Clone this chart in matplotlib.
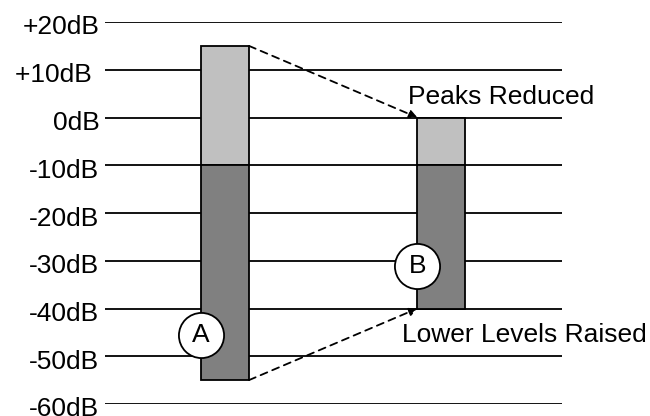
import matplotlib.pyplot as plt
import matplotlib.transforms as mtransforms

plt.rcParams['font.family'] = ['Liberation Sans', 'DejaVu Sans']

# dB scale ticks
levels = [20, 10, 0, -10, -20, -30, -40, -50, -60]
level_labels = ['+20dB', '+10dB ', '0dB', '-10dB', '-20dB', '-30dB', '-40dB', '-50dB', '-60dB']

# signal A (before) and B (after)
signals = ['A', 'B']
peak = [15, 0]
split = [-10, -10]
floor = [-55, -40]
circle_y = [-45.5, -31]

light = '#c0c0c0'
dark = '#808080'

fig = plt.figure(figsize=(6.5, 4.16), dpi=100)
ax = fig.add_axes([105 / 650, 12 / 416, 457 / 650, 382 / 416])
ax.set_ylim(-60, 20)
ax.set_xlim(-0.554, 1.557)

for v in levels:
    ax.axhline(v, color='black', lw=1.3, zorder=1)

ax.set_yticks(levels)
ax.set_yticklabels(level_labels, fontsize=19)
ax.tick_params(axis='y', length=0, pad=4)
ax.set_xticks([])
for s in ax.spines.values():
    s.set_visible(False)

# labels sit a little below their lines
shift = mtransforms.ScaledTranslation(0, -3 / 100, fig.dpi_scale_trans)
for lab in ax.get_yticklabels():
    lab.set_transform(lab.get_transform() + shift)

w = 0.222
xs = range(len(signals))
ax.bar(xs, [p - s for p, s in zip(peak, split)], bottom=split, width=w,
       color=light, edgecolor='black', lw=1.3, zorder=3)
ax.bar(xs, [s - f for s, f in zip(split, floor)], bottom=floor, width=w,
       color=dark, edgecolor='black', lw=1.3, zorder=3)

for x, cy, name in zip(xs, circle_y, signals):
    ax.plot(x - w / 2, cy, 'o', ms=32.5, mfc='white', mec='black', mew=1.3, zorder=4)
    ax.text(x - w / 2, cy, name, fontsize=19, ha='center', va='center', zorder=5)

arrow = dict(arrowstyle='-|>', color='black', lw=1.3, linestyle=(0, (4, 3)),
             mutation_scale=12, shrinkA=0, shrinkB=0)
ax.annotate('', xy=(1 - w / 2, peak[1]), xytext=(w / 2, peak[0]),
            arrowprops=arrow, zorder=2)
ax.annotate('', xy=(1 - w / 2, floor[1]), xytext=(w / 2, floor[0]),
            arrowprops=arrow, zorder=2)

ax.text(0.845, 4.3, 'Peaks Reduced', fontsize=19, ha='left', va='center', clip_on=False)
ax.text(0.818, -45.5, 'Lower Levels Raised', fontsize=19, ha='left', va='center', clip_on=False)

fig.savefig('out.png', dpi=100)
